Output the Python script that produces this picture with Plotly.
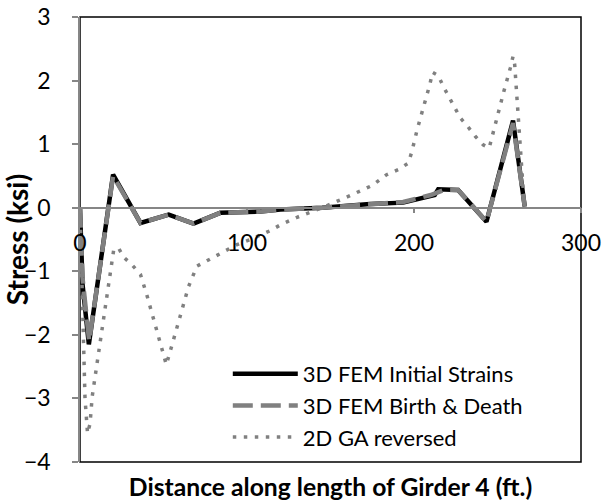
import plotly.graph_objects as go

# ---- data ----
x_initial = [0, 1.5, 5.3, 19.8, 36.2, 53.1, 68.0, 84.0, 108, 120, 145, 173.6, 193.5, 212.4, 214.5, 226.4, 243.4, 259.3, 266.3]
y_initial = [0, -1.2, -2.15, 0.52, -0.24, -0.11, -0.25, -0.08, -0.06, -0.03, 0.0, 0.06, 0.08, 0.2, 0.29, 0.28, -0.22, 1.37, 0.02]

x_birth = [0, 1.5, 5.5, 19.8, 36.2, 53.1, 68.0, 84.0, 108, 120, 145, 173.6, 193.5, 210, 218, 226.4, 243.4, 259.3, 266.3]
y_birth = [0, -1.1, -2.1, 0.5, -0.24, -0.11, -0.25, -0.08, -0.06, -0.03, 0.0, 0.06, 0.09, 0.2, 0.28, 0.28, -0.22, 1.33, 0.02]

x_ga = [0, 1.5, 3, 4.5, 6, 7.3, 10.3, 13.3, 16.3, 18.2, 20.2, 23, 26.2, 31.2, 36.2, 40.2, 44.1, 47.7,
        51.7, 55.3, 59.1, 62.7, 65, 70, 76, 82, 89, 94, 102, 114, 120, 130, 145, 160, 175, 183.6,
        190.6, 196.5, 198.6, 202, 205.7, 209.5, 211.1, 214.5, 217.5, 221, 224.4, 227.8, 232.4,
        236.8, 241.4, 245, 246.8, 250.3, 253.9, 257.7, 259.3, 260.3, 261.3, 263, 265, 266]
y_ga = [0, -1.5, -3.0, -3.55, -3.4, -2.97, -2.42, -1.87, -1.32, -0.95, -0.66, -0.63, -0.78, -0.9,
        -1.05, -1.39, -1.75, -2.1, -2.47, -2.14, -1.79, -1.42, -1.24, -0.92, -0.83, -0.74, -0.65,
        -0.58, -0.5, -0.36, -0.27, -0.15, 0.0, 0.17, 0.35, 0.52, 0.6, 0.7, 0.87, 1.24, 1.58, 1.94,
        2.13, 2.08, 1.91, 1.74, 1.58, 1.41, 1.27, 1.12, 0.99, 0.94, 1.12, 1.49, 1.84, 2.2, 2.38,
        2.25, 1.87, 1.12, 0.39, 0.05]

series_names = ["3D FEM Initial Strains", "3D FEM Birth & Death", "2D GA reversed"]
x_ticks = [0, 100, 200, 300]
y_ticks = [-4, -3, -2, -1, 0, 1, 2, 3]
x_range = [0, 300]
y_range = [-4, 3]

FONT = "Lato"

fig = go.Figure()
fig.add_trace(go.Scatter(x=x_initial, y=y_initial, mode="lines", name=series_names[0],
                         line=dict(color="#000000", width=4.5)))
fig.add_trace(go.Scatter(x=x_birth, y=y_birth, mode="lines", name=series_names[1],
                         line=dict(color="#808080", width=4.5, dash="20px,8px")))
fig.add_trace(go.Scatter(x=x_ga, y=y_ga, mode="lines", name=series_names[2], xaxis="x2",
                         line=dict(color="#808080", width=3.5, dash="3.5px,7.5px")))

fig.update_layout(
    width=608, height=501,
    margin=dict(l=80, r=27, t=17, b=39),
    paper_bgcolor="white", plot_bgcolor="white",
    font=dict(family=FONT, size=20, color="black"),
    showlegend=True,
    legend=dict(x=0.295, y=0.245, xanchor="left", yanchor="top",
                bgcolor="rgba(0,0,0,0)", font=dict(size=22, color="black"),
                itemwidth=65, tracegroupgap=0),
    # axis with tick labels, crossing at y = 0
    xaxis=dict(range=x_range, tickvals=x_ticks, anchor="free", position=4/7,
               showline=True, linecolor="#868686", linewidth=1.5,
               ticks="outside", ticklen=5, tickcolor="#868686", tickwidth=1.5,
               showgrid=False, zeroline=False, ticklabelstandoff=10, automargin=False,
               ticklabeloverflow="allow",
               tickfont=dict(size=23, color="black")),
    # bottom axis carrying the title
    xaxis2=dict(range=x_range, overlaying="x", anchor="y", side="bottom",
                showticklabels=False, ticks="", showline=False, showgrid=False, zeroline=False,
                automargin=False,
                title=dict(text="<b>Distance along length of Girder 4 (ft.)</b>", standoff=17,
                           font=dict(size=24.7, color="black"))),
    yaxis=dict(range=y_range, tickvals=y_ticks, showline=True, linecolor="#868686", linewidth=1.5,
               ticks="outside", ticklen=6, tickcolor="#868686", tickwidth=1.5,
               showgrid=False, zeroline=False, ticklabelstandoff=17, automargin=False,
               ticklabeloverflow="allow",
               tickfont=dict(size=23, color="black"),
               title=dict(text="<b>Stress (ksi)</b>", standoff=13, font=dict(size=28, color="black"))),
    shapes=[dict(type="rect", xref="paper", yref="paper", x0=0, y0=0, x1=1, y1=1,
                 line=dict(color="black", width=1.5), layer="below")],
)

# remove the default page margin so the figure fills the window exactly
fig.write_html("out.html", config={"displayModeBar": False},
               post_script="document.body.style.margin='0';")
